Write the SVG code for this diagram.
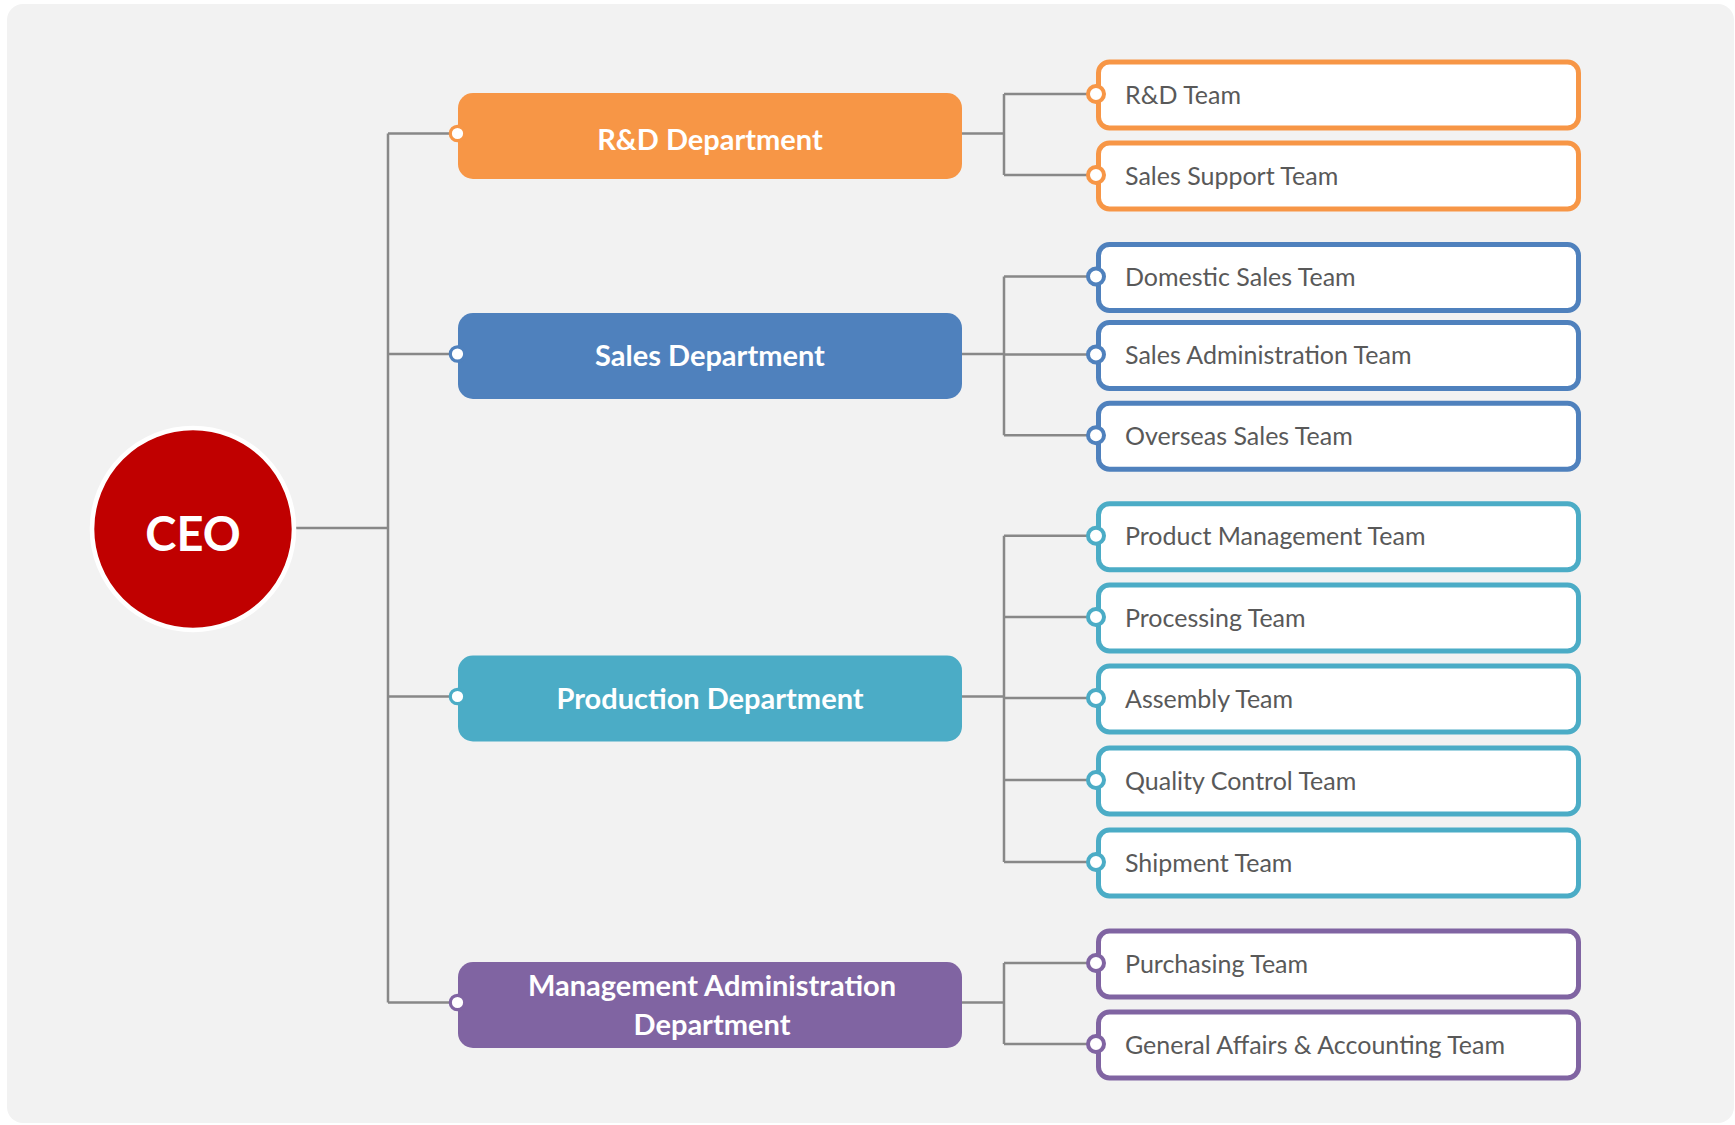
<svg xmlns="http://www.w3.org/2000/svg" width="1735" height="1125" viewBox="0 0 1735 1125">
  <style>
    .conn { fill: none; stroke: #888888; stroke-width: 2.5; }
    .dtext { font-family: Lato, "Liberation Sans", sans-serif; font-weight: bold; font-size: 29px; fill: #ffffff; text-anchor: middle; }
    .team { fill: #ffffff; stroke-width: 5; }
    .ttext { font-family: Lato, "Liberation Sans", sans-serif; font-size: 25px; fill: #595959; }
    .dot { fill: #ffffff; stroke-width: 3.2; }
    .tdot { fill: #ffffff; stroke-width: 4; }
    .orange { stroke: #F79646; }
    .blue { stroke: #4F81BD; }
    .cyan { stroke: #4BACC6; }
    .purple { stroke: #8064A2; }
  </style>
  <rect x="7" y="4" width="1727" height="1119" rx="16" fill="#F2F2F2"/>

  <g id="connectors">
    <path class="conn" d="M292 528 H388 M388 133.5 V1002.5 M388 133.5 H457 M388 354 H457 M388 696.5 H457 M388 1002.5 H457"/>
    <path class="conn" d="M962 133.5 H1004 M1004 94 V175 M1004 94 H1096 M1004 175 H1096"/>
    <path class="conn" d="M962 354 H1004 M1004 276.5 V435.2 M1004 276.5 H1096 M1004 354.5 H1096 M1004 435.2 H1096"/>
    <path class="conn" d="M962 696.5 H1004 M1004 535.7 V862 M1004 535.7 H1096 M1004 617 H1096 M1004 698 H1096 M1004 780 H1096 M1004 862 H1096"/>
    <path class="conn" d="M962 1002.5 H1004 M1004 963 V1044 M1004 963 H1096 M1004 1044 H1096"/>
  </g>

  <g id="ceo">
    <circle cx="193" cy="529" r="101" fill="#C00000" stroke="#ffffff" stroke-width="4.6"/>
    <text x="193" y="551" font-family="Lato, 'Liberation Sans', sans-serif" font-weight="bold" font-size="47" fill="#ffffff" text-anchor="middle">CEO</text>
  </g>

  <g id="dept-rd">
    <rect x="458" y="93" width="504" height="86" rx="15" fill="#F79646"/>
    <circle class="dot orange" cx="457.5" cy="133.5" r="7.2"/>
    <text class="dtext" x="710" y="150">R&amp;D Department</text>
  </g>
  <g id="dept-sales">
    <rect x="458" y="313" width="504" height="86" rx="15" fill="#4F81BD"/>
    <circle class="dot blue" cx="457.5" cy="354" r="7.2"/>
    <text class="dtext" x="710" y="366">Sales Department</text>
  </g>
  <g id="dept-production">
    <rect x="458" y="655.5" width="504" height="86" rx="15" fill="#4BACC6"/>
    <circle class="dot cyan" cx="457.5" cy="696.5" r="7.2"/>
    <text class="dtext" x="710" y="709">Production Department</text>
  </g>
  <g id="dept-management">
    <rect x="458" y="962" width="504" height="86" rx="15" fill="#8064A2"/>
    <circle class="dot purple" cx="457.5" cy="1002.5" r="7.2"/>
    <text class="dtext" x="712" y="996">Management Administration</text>
    <text class="dtext" x="712" y="1035">Department</text>
  </g>

  <g id="team-rd">
    <rect class="team orange" x="1098.5" y="62" width="480" height="66" rx="11"/>
    <circle class="tdot orange" cx="1096" cy="94" r="8"/>
    <text class="ttext" x="1125" y="103.5">R&amp;D Team</text>
  </g>
  <g id="team-sales-support">
    <rect class="team orange" x="1098.5" y="143" width="480" height="66" rx="11"/>
    <circle class="tdot orange" cx="1096" cy="175" r="8"/>
    <text class="ttext" x="1125" y="184.5">Sales Support Team</text>
  </g>

  <g id="team-domestic">
    <rect class="team blue" x="1098.5" y="244.5" width="480" height="66" rx="11"/>
    <circle class="tdot blue" cx="1096" cy="276.5" r="8"/>
    <text class="ttext" x="1125" y="286">Domestic Sales Team</text>
  </g>
  <g id="team-sales-admin">
    <rect class="team blue" x="1098.5" y="322.5" width="480" height="66" rx="11"/>
    <circle class="tdot blue" cx="1096" cy="354.5" r="8"/>
    <text class="ttext" x="1125" y="364">Sales Administration Team</text>
  </g>
  <g id="team-overseas">
    <rect class="team blue" x="1098.5" y="403.2" width="480" height="66" rx="11"/>
    <circle class="tdot blue" cx="1096" cy="435.2" r="8"/>
    <text class="ttext" x="1125" y="444.8">Overseas Sales Team</text>
  </g>

  <g id="team-product-mgmt">
    <rect class="team cyan" x="1098.5" y="503.7" width="480" height="66" rx="11"/>
    <circle class="tdot cyan" cx="1096" cy="535.7" r="8"/>
    <text class="ttext" x="1125" y="545.3">Product Management Team</text>
  </g>
  <g id="team-processing">
    <rect class="team cyan" x="1098.5" y="585" width="480" height="66" rx="11"/>
    <circle class="tdot cyan" cx="1096" cy="617" r="8"/>
    <text class="ttext" x="1125" y="626.6">Processing Team</text>
  </g>
  <g id="team-assembly">
    <rect class="team cyan" x="1098.5" y="666" width="480" height="66" rx="11"/>
    <circle class="tdot cyan" cx="1096" cy="698" r="8"/>
    <text class="ttext" x="1125" y="707.6">Assembly Team</text>
  </g>
  <g id="team-qc">
    <rect class="team cyan" x="1098.5" y="748" width="480" height="66" rx="11"/>
    <circle class="tdot cyan" cx="1096" cy="780" r="8"/>
    <text class="ttext" x="1125" y="789.6">Quality Control Team</text>
  </g>
  <g id="team-shipment">
    <rect class="team cyan" x="1098.5" y="830" width="480" height="66" rx="11"/>
    <circle class="tdot cyan" cx="1096" cy="862" r="8"/>
    <text class="ttext" x="1125" y="871.6">Shipment Team</text>
  </g>

  <g id="team-purchasing">
    <rect class="team purple" x="1098.5" y="931" width="480" height="66" rx="11"/>
    <circle class="tdot purple" cx="1096" cy="963" r="8"/>
    <text class="ttext" x="1125" y="972.6">Purchasing Team</text>
  </g>
  <g id="team-general">
    <rect class="team purple" x="1098.5" y="1012" width="480" height="66" rx="11"/>
    <circle class="tdot purple" cx="1096" cy="1044" r="8"/>
    <text class="ttext" x="1125" y="1053.6">General Affairs &amp; Accounting Team</text>
  </g>
</svg>
